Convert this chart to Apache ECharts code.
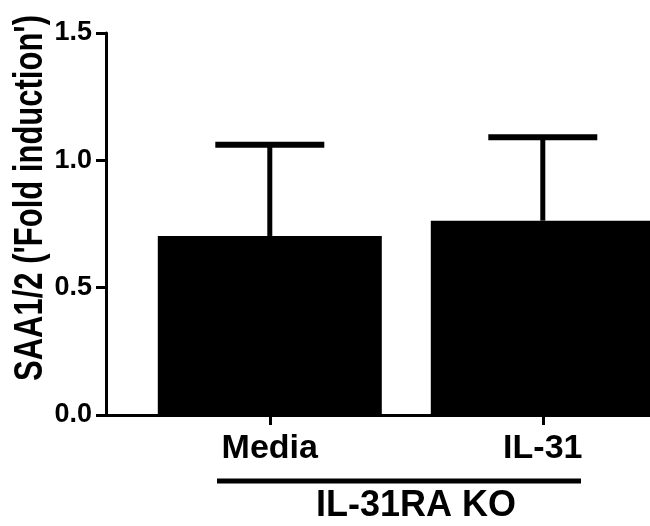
<!DOCTYPE html>
<html>
<head>
<meta charset="utf-8">
<script src="https://cdn.jsdelivr.net/npm/echarts@6/dist/echarts.min.js"></script>
<style>
html,body{margin:0;padding:0;background:#fff;}
#chart{width:650px;height:526px;}
</style>
</head>
<body>
<div id="chart"></div>
<script>
var categories = ['Media', 'IL-31'];
var positions = [1, 2];
var means = [0.703, 0.763];
var upperErr = [1.061, 1.091];
var yTicks = [0, 0.5, 1.0, 1.5];
var yTitle = "SAA1/2 ('Fold induction')";
var groupLabel = 'IL-31RA KO';

var FONT = '"Liberation Sans", Arial, Helvetica, sans-serif';

var chart = echarts.init(document.getElementById('chart'), null, {renderer: 'canvas'});

var barData = positions.map(function (p, i) { return [p, means[i]]; });
var errData = positions.map(function (p, i) { return [p, means[i], upperErr[i]]; });

var option = {
  animation: false,
  backgroundColor: '#ffffff',
  grid: {left: 106, right: 0, top: 33, bottom: 111, containLabel: false},
  xAxis: {
    type: 'value',
    min: 0.4,
    max: 2.3927,
    splitLine: {show: false},
    axisLine: {show: true, onZero: false, lineStyle: {color: '#000', width: 3}},
    axisTick: {show: true, length: 10, lineStyle: {color: '#000', width: 3}, customValues: positions},
    axisLabel: {
      show: true,
      customValues: positions,
      margin: 17,
      color: '#000',
      fontFamily: FONT,
      fontWeight: 'bold',
      fontSize: 34,
      formatter: function (v) {
        var idx = positions.indexOf(Math.round(v));
        return idx >= 0 ? categories[idx] : '';
      }
    }
  },
  yAxis: {
    type: 'value',
    min: 0,
    max: 1.5,
    interval: 0.5,
    splitLine: {show: false},
    axisLine: {show: true, lineStyle: {color: '#000', width: 3}},
    axisTick: {show: true, length: 10, lineStyle: {color: '#000', width: 3}},
    axisLabel: {
      margin: 14,
      color: '#000',
      fontFamily: FONT,
      fontWeight: 'bold',
      fontSize: 27,
      formatter: function (v) { return v.toFixed(1); }
    }
  },
  series: [
    {
      type: 'bar',
      data: barData,
      barWidth: 224,
      itemStyle: {color: '#000'},
      z: 2
    },
    {
      type: 'custom',
      data: errData,
      z: 3,
      renderItem: function (params, api) {
        var x = api.value(0);
        var base = api.coord([x, api.value(1)]);
        var top = api.coord([x, api.value(2)]);
        var half = 54.5;
        return {
          type: 'group',
          children: [
            {type: 'line', shape: {x1: base[0], y1: base[1], x2: top[0], y2: top[1]},
             style: {stroke: '#000', lineWidth: 5}},
            {type: 'line', shape: {x1: top[0] - half, y1: top[1], x2: top[0] + half, y2: top[1]},
             style: {stroke: '#000', lineWidth: 6}}
          ]
        };
      }
    }
  ],
  graphic: [
    {
      type: 'text',
      x: 31, y: 198,
      rotation: Math.PI / 2,
      scaleY: 1.3,
      style: {
        text: yTitle,
        fill: '#000',
        font: 'bold 31px ' + FONT,
        textAlign: 'center',
        textVerticalAlign: 'middle'
      }
    },
    {
      type: 'line',
      shape: {x1: 217, y1: 481, x2: 581, y2: 481},
      style: {stroke: '#000', lineWidth: 5}
    },
    {
      type: 'text',
      x: 416, y: 506,
      style: {
        text: groupLabel,
        fill: '#000',
        font: 'bold 36px ' + FONT,
        textAlign: 'center',
        textVerticalAlign: 'middle'
      }
    }
  ]
};

chart.setOption(option);
</script>
</body>
</html>
